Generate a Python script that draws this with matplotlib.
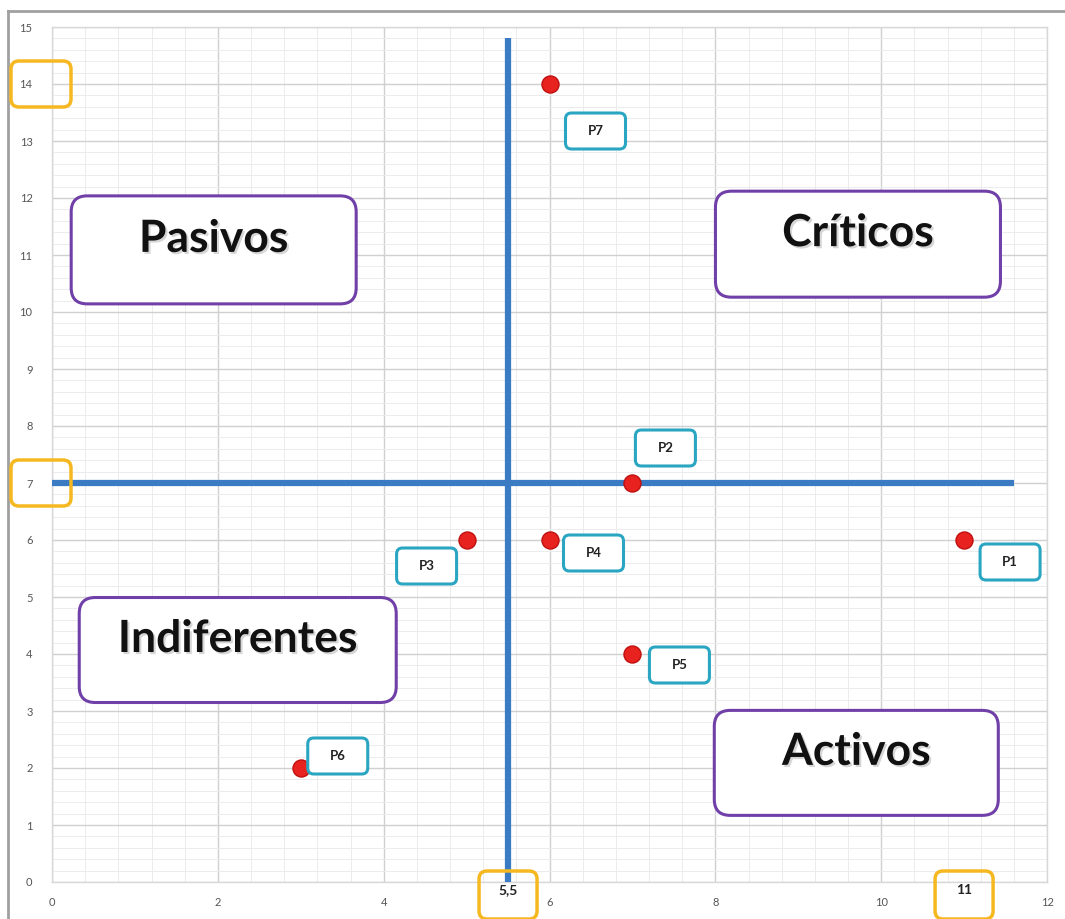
import matplotlib
matplotlib.use("Agg")
import matplotlib.pyplot as plt
from matplotlib.patches import FancyBboxPatch
from matplotlib.lines import Line2D
import matplotlib.patheffects as pe
import numpy as np

# datos de la matriz
etiquetas = ["P1", "P2", "P3", "P4", "P5", "P6", "P7"]
x_vals = [11, 7, 5, 6, 7, 3, 6]
y_vals = [6, 7, 6, 6, 4, 2, 14]

# desplazamiento de cada etiqueta en pixeles (dx, dy)
desplaz = [(46, -22), (33, 35), (-40, -26), (44, -13), (47, -11), (37, 12), (46, -47)]

# cuadrantes
cuadrantes = ["Pasivos", "Críticos", "Indiferentes", "Activos"]
cuad_x = [1.95, 9.72, 2.24, 9.70]
cuad_y = [11.09, 11.19, 4.07, 2.09]
cuad_w = [285, 285, 317, 284]
cuad_h = [108, 106, 105, 105]

corte_x = 5.5
corte_y = 7
max_x = 11
max_y = 14

W, H = 1065, 919
fig = plt.figure(figsize=(W / 100, H / 100), dpi=100)
plt.rcParams['font.family'] = ['Lato', 'DejaVu Sans']

x0, x1 = 52, 1047
y0, y1 = 882, 27
ax = fig.add_axes([x0 / W, (H - y0) / H, (x1 - x0) / W, (y0 - y1) / H])
ax.set_xlim(0, 12)
ax.set_ylim(0, 15)

# rejilla estilo Excel
ax.set_xticks(np.arange(0, 13, 2))
ax.set_yticks(np.arange(0, 16, 1))
ax.set_xticks(np.arange(0, 12.01, 0.4), minor=True)
ax.set_yticks(np.arange(0, 15.01, 0.2), minor=True)
ax.grid(which='major', color='#d0d0d0', lw=1.0)
ax.grid(which='minor', color='#ececec', lw=0.7)
ax.set_axisbelow(True)
for s in ax.spines.values():
    s.set_color('#d8d8d8')
    s.set_linewidth(1)
ax.tick_params(which='both', length=0, labelsize=8, labelcolor='#555555')
ax.tick_params(axis='x', pad=11)
ax.tick_params(axis='y', pad=14)

# ejes de corte
ax.plot([corte_x, corte_x], [0, 14.8], color='#3b7bc4', lw=4.5, solid_capstyle='butt', zorder=3)
ax.plot([0, 11.6], [corte_y, corte_y], color='#3b7bc4', lw=4.5, solid_capstyle='butt', zorder=3)

# puntos
ax.scatter(x_vals, y_vals, s=150, color='#e8231f', edgecolor='#c01010', lw=1, zorder=5)

fig.canvas.draw()
to_px = ax.transData.transform


def caja(cx, cy, w, h, color, lw, r=10, face='white', z=6):
    p = FancyBboxPatch((cx - w / 2, cy - h / 2), w, h,
                       boxstyle=f"round,pad=0,rounding_size={r}",
                       transform=None, facecolor=face, edgecolor=color,
                       lw=lw, zorder=z, clip_on=False)
    fig.add_artist(p)


# etiquetas de puntos
for lab, xv, yv, (dx, dy) in zip(etiquetas, x_vals, y_vals, desplaz):
    px, py = to_px((xv, yv))
    cx, cy = px + dx, py + dy
    caja(cx, cy, 60, 36, '#2aa6c2', 2.2, r=6)
    fig.text(cx / W, cy / H, lab, ha='center', va='center', fontsize=9.5,
             fontweight='bold', color='#222222', zorder=7)

# cuadrantes
sombra = [pe.SimplePatchShadow(offset=(1.5, -1.5), shadow_rgbFace='#999999', alpha=0.4), pe.Normal()]
for nom, cxd, cyd, w, h in zip(cuadrantes, cuad_x, cuad_y, cuad_w, cuad_h):
    cx, cy = to_px((cxd, cyd))
    caja(cx, cy, w, h, '#7040a8', 2.2, r=16)
    fig.text(cx / W, (cy + 11) / H, nom, ha='center', va='center', fontsize=32,
             fontweight='bold', color='#111111', zorder=7, path_effects=sombra)

# marcas naranjas en ejes
naranja = '#f5b820'
for yv in [max_y, corte_y]:
    _, py = to_px((0, yv))
    caja(41, py, 60, 46, naranja, 2.5, r=8, face='none', z=8)
for xv in [corte_x, max_x]:
    px, _ = to_px((xv, 0))
    caja(px, H - 895, 58, 48, naranja, 2.5, r=8, face='none', z=8)
    fig.text(px / W, (H - 890) / H, str(xv).replace('.', ',').replace(',0', ''),
             ha='center', va='center', fontsize=10, fontweight='bold', color='#222222')

# marco superior / izquierdo
fig.add_artist(Line2D([8 / W, 1], [(H - 11) / H, (H - 11) / H], color='#a0a0a0', lw=2))
fig.add_artist(Line2D([8 / W, 8 / W], [0, (H - 11) / H], color='#a0a0a0', lw=2))

fig.savefig('out.png', dpi=100)
